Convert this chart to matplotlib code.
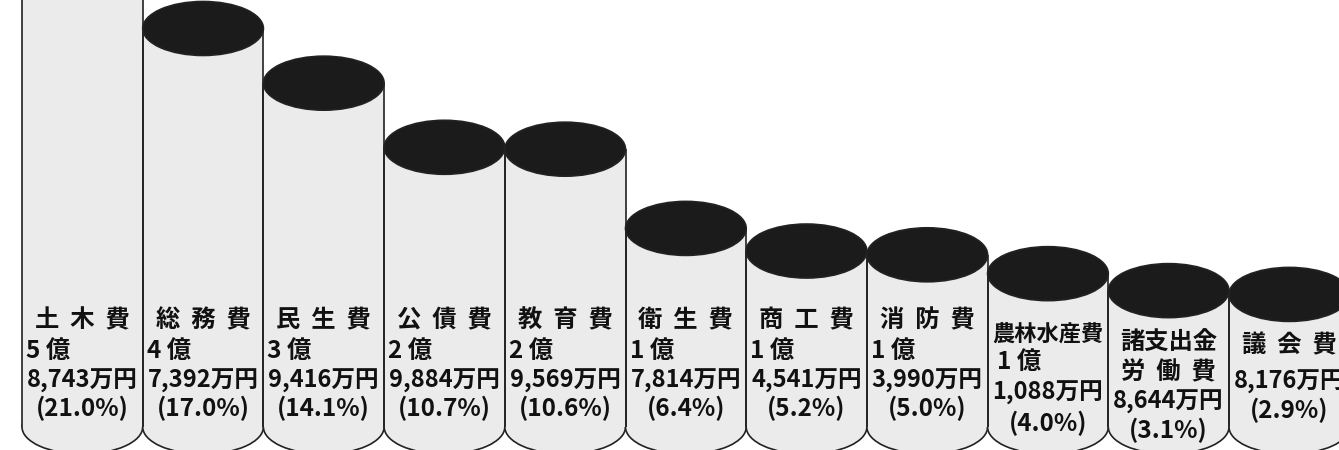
import matplotlib
matplotlib.use("Agg")
import matplotlib.pyplot as plt
from matplotlib.patches import Ellipse

# ---- data ----
categories = ["土木費", "総務費", "民生費", "公債費", "教育費", "衛生費",
              "商工費", "消防費", "農林水産費", "諸支出金・労働費", "議会費"]
display_names = ["土  木  費", "総  務  費", "民  生  費", "公  債  費", "教  育  費",
                 "衛  生  費", "商  工  費", "消  防  費", "農林水産費",
                 "諸支出金\n労  働  費", "議  会  費"]
oku_labels = ["5 億", "4 億", "3 億", "2 億", "2 億", "1 億", "1 億", "1 億", "1 億", "", ""]
man_labels = ["8,743万円", "7,392万円", "9,416万円", "9,884万円", "9,569万円",
              "7,814万円", "4,541万円", "3,990万円", "1,088万円", "8,644万円",
              "8,176万円"]
percents = [21.0, 17.0, 14.1, 10.7, 10.6, 6.4, 5.2, 5.0, 4.0, 3.1, 2.9]

# ---- style / layout ----
W, H = 1339, 450
PX_PER_PCT = 18.86
ZERO_PX = 349.1
COL_PX = 120.7
LEFT_PX = 22


def py(p):
    return (ZERO_PX - p) / PX_PER_PCT


BODY = "#ebebeb"
TOP = "#1b1b1b"
EDGE = "#222222"
LW = 1.2
ELL_H = 54 / PX_PER_PCT
BASE = py(427)
FONT = ["Noto Sans CJK JP", "DejaVu Sans"]
FS = 17.5

fig = plt.figure(figsize=(W / 100, H / 100), dpi=100)
ax = fig.add_axes([0, 0, 1, 1])
ax.set_axis_off()
x0 = -0.5 - LEFT_PX / COL_PX
ax.set_xlim(x0, x0 + W / COL_PX)
ax.set_ylim(py(H), py(0))

xs = list(range(len(percents)))
heights = [p - BASE for p in percents]

# bottom ellipses
for x in xs:
    ax.add_patch(Ellipse((x, BASE), 1.0, ELL_H, facecolor=BODY,
                         edgecolor=EDGE, lw=LW, zorder=1))
# bodies
ax.bar(xs, heights, bottom=BASE, width=1.0, color=BODY, edgecolor="none",
       zorder=2)
# sides
ax.vlines([x - 0.5 for x in xs], BASE, percents, color=EDGE, lw=LW, zorder=3)
ax.vlines([x + 0.5 for x in xs], BASE, percents, color=EDGE, lw=LW, zorder=3)
# tops
for x, p in zip(xs, percents):
    ax.add_patch(Ellipse((x, p), 1.0, ELL_H, facecolor=TOP,
                         edgecolor=EDGE, lw=LW, zorder=4))

# ---- labels ----
kw = dict(family=FONT, color="#111111", zorder=5, va="center", weight="bold")
for i, x in enumerate(xs):
    name = display_names[i]
    oku = oku_labels[i]
    man = man_labels[i]
    pct = f"({percents[i]:.1f}%)"
    if i <= 7:
        ys = [320, 351, 381, 408]
        ax.text(x, py(ys[0]), name, ha="center", fontsize=FS, **kw)
        ax.text(x - 0.5 + 4 / COL_PX, py(ys[1]), oku, ha="left", fontsize=FS, **kw)
        ax.text(x, py(ys[2]), man, ha="center", fontsize=FS - 0.5, **kw)
        ax.text(x, py(ys[3]), pct, ha="center", fontsize=FS, **kw)
    elif i == 8:
        ax.text(x, py(335), name, ha="center", fontsize=16, **kw)
        ax.text(x - 0.5 + 9 / COL_PX, py(362), oku, ha="left", fontsize=FS, **kw)
        ax.text(x, py(393), man, ha="center", fontsize=FS - 0.5, **kw)
        ax.text(x, py(423), pct, ha="center", fontsize=FS, **kw)
    elif i == 9:
        n1, n2 = name.split("\n")
        ax.text(x, py(343), n1, ha="center", fontsize=FS, **kw)
        ax.text(x, py(372), n2, ha="center", fontsize=FS, **kw)
        ax.text(x, py(402), man, ha="center", fontsize=FS - 0.5, **kw)
        ax.text(x, py(430), pct, ha="center", fontsize=FS, **kw)
    else:
        ax.text(x, py(345), name, ha="center", fontsize=FS, **kw)
        ax.text(x - 0.5 + 5 / COL_PX, py(382), man, ha="left", fontsize=FS - 0.5, **kw)
        ax.text(x, py(410), pct, ha="center", fontsize=FS, **kw)

fig.savefig("out.png", dpi=100, facecolor="white")
